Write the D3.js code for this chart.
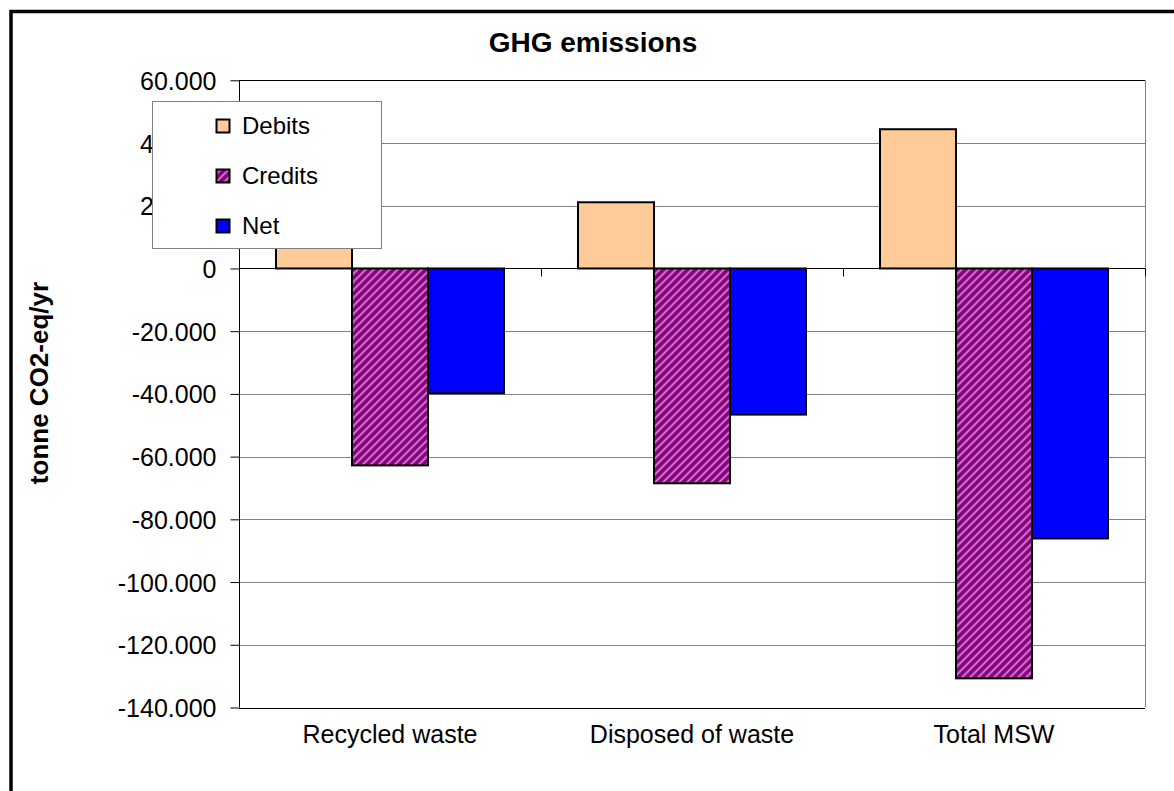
<!DOCTYPE html>
<html>
<head>
<meta charset="utf-8">
<script src="https://cdn.jsdelivr.net/npm/d3@7"></script>
<style>
  html, body { margin: 0; padding: 0; background: #fff; }
  svg { display: block; }
  text { font-family: "Liberation Sans", Arial, sans-serif; fill: #000; }
</style>
</head>
<body>
<svg id="chart" width="1174" height="791"></svg>
<script>
// ---- data ----
const categories = ["Recycled waste", "Disposed of waste", "Total MSW"];
const seriesNames = ["Debits", "Credits", "Net"];
const debits = [23300, 21100, 44400];
const credits = [-62800, -68500, -130700];
const net = [-39800, -46600, -86100];
const yTicks = [60000, 40000, 20000, 0, -20000, -40000, -60000, -80000, -100000, -120000, -140000];
const titleText = "GHG emissions";
const yLabelText = "tonne CO2-eq/yr";

const seriesValues = { "Debits": debits, "Credits": credits, "Net": net };

// ---- layout ----
const plot = { left: 239, right: 1145, top: 80.3, bottom: 707.5 };

const svg = d3.select("#chart");

// defs: smooth diagonal stripe pattern for Credits
const defs = svg.append("defs");
const grad = defs.append("linearGradient").attr("id", "stripeGrad")
  .attr("x1", "0").attr("x2", "1").attr("y1", "0").attr("y2", "0");
[["0%", "#800080"], ["22%", "#800080"], ["50%", "#f49ad8"], ["78%", "#800080"], ["100%", "#800080"]]
  .forEach(([o, c]) => grad.append("stop").attr("offset", o).attr("stop-color", c));
const pat = defs.append("pattern")
  .attr("id", "stripes")
  .attr("patternUnits", "userSpaceOnUse")
  .attr("width", 5.66).attr("height", 20)
  .attr("patternTransform", "rotate(45)");
pat.append("rect").attr("width", 5.66).attr("height", 20).attr("fill", "url(#stripeGrad)");

const fills = { "Debits": "#FFCC99", "Credits": "url(#stripes)", "Net": "#0000FF" };

// scales
const x0 = d3.scaleBand().domain(categories).range([plot.left, plot.right]).paddingInner(0).paddingOuter(0);
const x1 = d3.scaleBand().domain(seriesNames).range([0, x0.bandwidth()]).paddingInner(0).paddingOuter(0.487);
const y = d3.scaleLinear().domain([-140000, 60000]).range([plot.bottom, plot.top]);

const locale = d3.formatLocale({ decimal: ",", thousands: ".", grouping: [3], currency: ["", ""], minus: "-" });
const fmt = locale.format(",d");

// outer frame
svg.append("rect")
  .attr("x", 11).attr("y", 11.5)
  .attr("width", 1190).attr("height", 800)
  .attr("fill", "#fff").attr("stroke", "#000").attr("stroke-width", 3.5);

// gridlines
svg.append("g").selectAll("line")
  .data(yTicks.filter(t => t !== 0 && t !== -140000 && t !== 60000))
  .join("line")
  .attr("x1", plot.left).attr("x2", plot.right)
  .attr("y1", d => Math.round(y(d)) + 0.5).attr("y2", d => Math.round(y(d)) + 0.5)
  .attr("stroke", "#808080").attr("stroke-width", 1);

// plot border (top black, right gray)
svg.append("line")
  .attr("x1", plot.left).attr("x2", plot.right)
  .attr("y1", Math.round(y(60000)) + 0.5).attr("y2", Math.round(y(60000)) + 0.5)
  .attr("stroke", "#000");
svg.append("line")
  .attr("x1", plot.right + 0.5).attr("x2", plot.right + 0.5)
  .attr("y1", plot.top).attr("y2", plot.bottom)
  .attr("stroke", "#808080");

// bars
const groups = svg.append("g").selectAll("g")
  .data(categories)
  .join("g")
  .attr("transform", d => `translate(${x0(d)},0)`);

groups.selectAll("rect")
  .data((d, i) => seriesNames.map(s => ({ s, v: seriesValues[s][i] })))
  .join("rect")
  .attr("x", d => x1(d.s))
  .attr("width", x1.bandwidth())
  .attr("y", d => y(Math.max(0, d.v)))
  .attr("height", d => Math.abs(y(d.v) - y(0)))
  .attr("fill", d => fills[d.s])
  .attr("stroke", "#000").attr("stroke-width", 2);

// y axis
const yAxis = d3.axisLeft(y).tickValues(yTicks).tickFormat(fmt).tickSize(9).tickPadding(14);
const gy = svg.append("g").attr("transform", `translate(${plot.left + 0.5},0)`).call(yAxis);
gy.select(".domain").attr("stroke", "#000").attr("d", `M0,${plot.top}V${plot.bottom}`);
gy.selectAll(".tick line").attr("stroke", "#000");
gy.selectAll(".tick text").attr("font-size", 25).attr("font-family", "Liberation Sans, Arial, sans-serif").attr("fill", "#000").attr("dy", "0.36em");

// zero line with category ticks
const yZero = Math.round(y(0)) + 0.5;
svg.append("line")
  .attr("x1", plot.left).attr("x2", plot.right)
  .attr("y1", yZero).attr("y2", yZero)
  .attr("stroke", "#000");
svg.append("g").selectAll("line")
  .data(categories.map(c => x0(c)).concat([plot.right]))
  .join("line")
  .attr("x1", d => Math.round(d) + 0.5).attr("x2", d => Math.round(d) + 0.5)
  .attr("y1", yZero).attr("y2", yZero + 8)
  .attr("stroke", "#000");

// bottom axis line
svg.append("line")
  .attr("x1", plot.left).attr("x2", plot.right)
  .attr("y1", Math.round(y(-140000)) + 0.5).attr("y2", Math.round(y(-140000)) + 0.5)
  .attr("stroke", "#000");

// category labels
svg.append("g").selectAll("text")
  .data(categories)
  .join("text")
  .attr("x", d => x0(d) + x0.bandwidth() / 2)
  .attr("y", 743)
  .attr("text-anchor", "middle")
  .attr("font-size", 25)
  .text(d => d);

// title
svg.append("text")
  .attr("x", 593).attr("y", 52)
  .attr("text-anchor", "middle")
  .attr("font-size", 28).attr("font-weight", "bold")
  .text(titleText);

// y label
svg.append("text")
  .attr("transform", "translate(48,383) rotate(-90)")
  .attr("text-anchor", "middle")
  .attr("font-size", 26).attr("font-weight", "bold")
  .text(yLabelText);

// legend
const lg = svg.append("g");
lg.append("rect")
  .attr("x", 152.5).attr("y", 101.5)
  .attr("width", 229).attr("height", 147)
  .attr("fill", "#fff").attr("stroke", "#808080").attr("stroke-width", 1);
const items = lg.selectAll("g.item")
  .data(seriesNames)
  .join("g").attr("class", "item")
  .attr("transform", (d, i) => `translate(0,${i * 50})`);
items.append("rect")
  .attr("x", 216.5).attr("y", 119.5)
  .attr("width", 13).attr("height", 13)
  .attr("fill", d => fills[d])
  .attr("stroke", "#000").attr("stroke-width", 2);
items.append("text")
  .attr("x", 242).attr("y", 134)
  .attr("font-size", 24)
  .text(d => d);
</script>
</body>
</html>
